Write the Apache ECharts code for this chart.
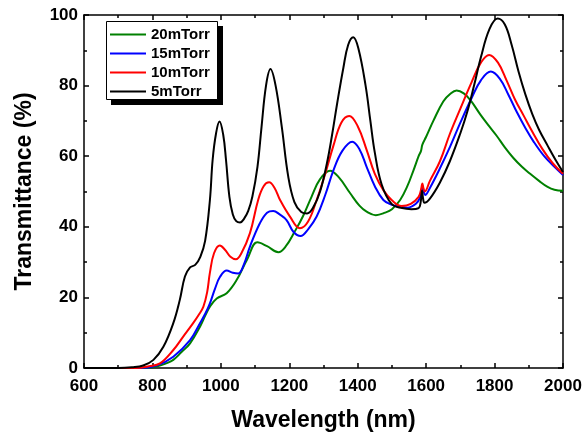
<!DOCTYPE html>
<html>
<head>
<meta charset="utf-8">
<script src="https://cdn.jsdelivr.net/npm/echarts@6/dist/echarts.min.js"></script>
<style>
  html, body { margin: 0; padding: 0; background: #fff; }
  #chart { width: 585px; height: 432px; }
</style>
</head>
<body>
<div id="chart"></div>
<script>
// transmittance spectra, [wavelength nm, T %]
var t20mTorr = [
    [600, 0], [780, 0], [812, 0.4], [840, 1.3], [861, 2.3], [885, 4.5], [910, 7], [939, 11.7],
    [955, 15], [968, 17.4], [988, 19.7], [1017, 21.2], [1046, 24.9], [1076, 30.6], [1107, 35.6],
    [1135, 34.5], [1168, 32.8], [1190, 34.5], [1215, 38.5], [1240, 43], [1265, 48.5], [1290, 53.5],
    [1319, 55.9], [1345, 54], [1378, 49.5], [1405, 46], [1426, 44.3], [1453, 43.3], [1480, 44],
    [1500, 45], [1524, 47.6], [1545, 51.5], [1563, 56], [1578, 60], [1585, 61.5], [1589, 63.3],
    [1600, 65.5], [1621, 70], [1650, 75.5], [1670, 77.6], [1689, 78.6], [1710, 77.8], [1730, 75.8],
    [1757, 72], [1780, 69], [1806, 65.8], [1830, 62.5], [1855, 59.5], [1880, 57], [1904, 55],
    [1930, 53], [1955, 51.3], [1975, 50.5], [2000, 50.2]
];
var t15mTorr = [
    [600, 0], [760, 0], [812, 0.7], [861, 3.2], [910, 7.9], [939, 12.7], [955, 15.5], [968, 18.3],
    [983, 22.5], [998, 25.9], [1017, 27.6], [1035, 27], [1051, 26.8], [1068, 29.5], [1085, 34.4],
    [1114, 41], [1135, 44], [1153, 44.5], [1172, 43.5], [1192, 41.9], [1212, 38.6], [1233, 37.4],
    [1255, 39.3], [1280, 42.9], [1305, 49], [1329, 56], [1355, 61.5], [1384, 64.1], [1405, 62],
    [1426, 57], [1450, 51.5], [1475, 47.6], [1500, 46.2], [1524, 45.7], [1545, 45.4], [1570, 46.5],
    [1583, 48.5], [1589, 51.4], [1593, 50], [1597, 49], [1611, 51], [1640, 56.5], [1670, 62.7],
    [1700, 69.5], [1733, 76.5], [1760, 81.5], [1789, 84], [1815, 82], [1840, 77.5], [1865, 72.5],
    [1890, 68], [1915, 64], [1945, 60], [1975, 57], [2000, 54.7]
];
var t10mTorr = [
    [600, 0], [750, 0], [790, 0.5], [822, 1.3], [861, 5.1], [890, 8.9], [919, 12.7], [935, 15],
    [949, 17.4], [960, 21.5], [968, 27], [980, 32.5], [997, 34.7], [1012, 33.5], [1028, 31.5],
    [1044, 30.8], [1060, 32.5], [1085, 38.2], [1109, 47.6], [1125, 51.5], [1141, 52.6], [1157, 51],
    [1173, 47.6], [1202, 42.9], [1231, 39.6], [1255, 41.5], [1280, 47.6], [1305, 55], [1329, 63],
    [1352, 69.5], [1375, 71.4], [1400, 68.5], [1426, 61.8], [1450, 55], [1475, 50.4], [1500, 47.5],
    [1528, 45.9], [1555, 46.5], [1578, 48.5], [1585, 50.5], [1589, 52.3], [1592, 51], [1596, 50],
    [1611, 53], [1640, 58.5], [1670, 66.5], [1700, 73.5], [1733, 81], [1760, 86.5], [1784, 88.7],
    [1810, 86.5], [1835, 81.5], [1860, 76], [1885, 71.5], [1910, 67], [1940, 62], [1970, 58], [2000, 55]
];
var t5mTorr = [
    [600, 0], [700, 0], [740, 0.2], [773, 0.7], [803, 2.3], [832, 6], [861, 12.7], [880, 19.3],
    [895, 25.9], [910, 28.5], [925, 29.2], [940, 31.5], [954, 36], [968, 47.6], [976, 59], [986, 66.5],
    [996, 69.8], [1007, 66], [1015, 59], [1025, 48.5], [1035, 43.5], [1045, 41.6], [1056, 41.2],
    [1068, 42.3], [1080, 44.5], [1092, 48.5], [1107, 57], [1119, 68.4], [1132, 80], [1145, 84.7],
    [1160, 80], [1178, 68.4], [1197, 54.2], [1215, 47], [1235, 44.2], [1252, 43.8], [1270, 45.5],
    [1290, 50], [1310, 58], [1325, 66], [1340, 75], [1358, 85], [1372, 91.5], [1387, 93.7],
    [1402, 90.5], [1423, 80], [1437, 70], [1450, 61], [1470, 52], [1499, 46.5], [1530, 45.3],
    [1557, 45], [1578, 45.3], [1584, 47], [1588, 50.2], [1591, 48], [1595, 46.8], [1611, 48],
    [1640, 52.5], [1669, 58.5], [1700, 66.5], [1720, 72.5], [1740, 80], [1760, 88], [1785, 96],
    [1809, 99], [1830, 97.3], [1850, 91.5], [1870, 84], [1890, 77.5], [1910, 72], [1930, 67.5],
    [1955, 63], [1978, 59], [2000, 55.5]
];
var seriesNames = ['20mTorr', '15mTorr', '10mTorr', '5mTorr'];
var seriesColors = ['#008000', '#0000ff', '#ff0000', '#000000'];
var seriesData = [t20mTorr, t15mTorr, t10mTorr, t5mTorr];

var font = 'Liberation Sans, Arial, sans-serif';
var myChart = echarts.init(document.getElementById('chart'));

function plain(v) { return String(v); }

function xAx(pos, labels) {
    return {
        type: 'value', position: pos, min: 600, max: 2000, interval: 200,
        axisLine: { show: true, onZero: false, lineStyle: { color: '#000', width: 1.5 } },
        axisTick: { show: true, inside: true, length: 5, lineStyle: { color: '#000', width: 1.5 } },
        minorTick: { show: true, splitNumber: 2, length: 3, lineStyle: { color: '#000', width: 1.5 } },
        splitLine: { show: false },
        axisLabel: { show: labels, formatter: plain, color: '#000', fontFamily: font, fontWeight: 'bold', fontSize: 17, margin: 10 },
        name: labels ? 'Wavelength (nm)' : '',
        nameLocation: 'middle', nameGap: 41,
        nameTextStyle: { color: '#000', fontFamily: font, fontWeight: 'bold', fontSize: 23 }
    };
}
function yAx(pos, labels) {
    return {
        type: 'value', position: pos, min: 0, max: 100, interval: 20,
        axisLine: { show: true, onZero: false, lineStyle: { color: '#000', width: 1.5 } },
        axisTick: { show: true, inside: true, length: 5, lineStyle: { color: '#000', width: 1.5 } },
        minorTick: { show: true, splitNumber: 2, length: 3, lineStyle: { color: '#000', width: 1.5 } },
        splitLine: { show: false },
        axisLabel: { show: labels, formatter: plain, color: '#000', fontFamily: font, fontWeight: 'bold', fontSize: 17, margin: 6 },
        name: labels ? 'Transmittance (%)' : '',
        nameLocation: 'middle', nameGap: 48,
        nameTextStyle: { color: '#000', fontFamily: font, fontWeight: 'bold', fontSize: 23 }
    };
}

var option = {
    animation: false,
    backgroundColor: '#fff',
    grid: { left: 84, right: 22, top: 15, bottom: 64, containLabel: false, outerBoundsMode: 'none' },
    xAxis: [xAx('bottom', true), xAx('top', false)],
    yAxis: [yAx('left', true), yAx('right', false)],
    // legend frame with its offset black shadow
    graphic: [
        { type: 'rect', z: 10, shape: { x: 111, y: 26, width: 112, height: 79 }, style: { fill: '#000' } },
        { type: 'rect', z: 11, shape: { x: 106.5, y: 21.5, width: 111, height: 78 }, style: { fill: '#fff', stroke: '#000', lineWidth: 1 } }
    ],
    legend: {
        orient: 'vertical', left: 106, top: 20, z: 20,
        padding: [7, 6, 6, 4], itemGap: 4, itemWidth: 36, itemHeight: 2,
        icon: 'rect',
        textStyle: { color: '#000', fontFamily: font, fontWeight: 'bold', fontSize: 15 },
        data: seriesNames
    },
    series: seriesNames.map(function (name, i) {
        return {
            name: name, type: 'line', data: seriesData[i],
            smooth: 0.4, symbol: 'none',
            lineStyle: { color: seriesColors[i], width: 2 },
            itemStyle: { color: seriesColors[i] }
        };
    })
};
myChart.setOption(option);
</script>
</body>
</html>
